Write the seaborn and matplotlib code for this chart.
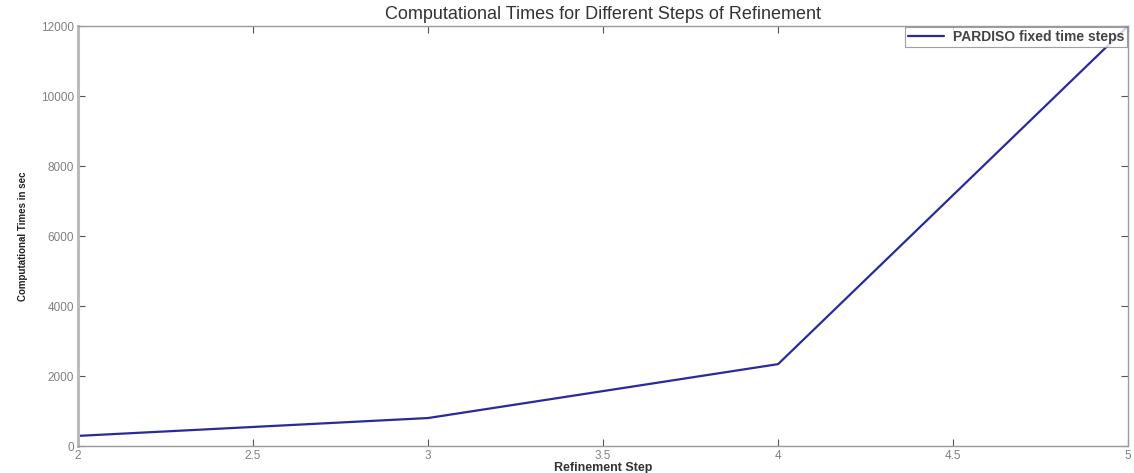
import matplotlib
matplotlib.use("Agg")
import matplotlib.pyplot as plt
import seaborn as sns
import pandas as pd

# Refinement steps and measured computational times (seconds)
refinement_step = [2, 3, 4, 5]
comp_time_sec = [290, 800, 2340, 12000]
series_name = "PARDISO fixed time steps"

x_ticks = [2, 2.5, 3, 3.5, 4, 4.5, 5]
x_tick_labels = ["2", "2.5", "3", "3.5", "4", "4.5", "5"]
y_ticks = [0, 2000, 4000, 6000, 8000, 10000, 12000]
y_tick_labels = ["0", "2000", "4000", "6000", "8000", "10000", "12000"]

sns.set_theme(style="white")
plt.rcParams["font.family"] = ["Liberation Sans", "DejaVu Sans"]

df = pd.DataFrame({"step": refinement_step, "time": comp_time_sec, "series": series_name})

fig = plt.figure(figsize=(11.34, 4.73), dpi=100)
ax = fig.add_axes([0.0688, 0.057, 0.926, 0.888])

sns.lineplot(data=df, x="step", y="time", hue="series", palette=["#2a2a9c"],
             linewidth=1.6, ax=ax)

ax.set_xlim(2, 5)
ax.set_ylim(0, 12000)
ax.set_xticks(x_ticks)
ax.set_xticklabels(x_tick_labels)
ax.set_yticks(y_ticks)
ax.set_yticklabels(y_tick_labels)

ax.tick_params(direction="in", length=5, width=0.8, color="#555555",
               labelsize=8.5, labelcolor="#808080", top=True, right=True,
               bottom=True, left=True, pad=3)

for name, sp in ax.spines.items():
    sp.set_color("#9a9a9a")
    sp.set_linewidth(1.0)
ax.spines["left"].set_linewidth(2.2)
ax.spines["left"].set_color("#bbbbbb")

ax.set_title("Computational Times for Different Steps of Refinement",
             fontsize=13, color="#333333", pad=5)
ax.set_xlabel("Refinement Step", fontsize=9, fontweight="bold",
              color="#333333", labelpad=0)
ax.set_ylabel("Computational Times in sec", fontsize=7, color="#222222",
              fontweight="bold", labelpad=9)

leg = ax.legend(loc="upper right", fontsize=10, frameon=True, fancybox=False,
                borderpad=0.2, handlelength=2.6, handletextpad=0.6,
                borderaxespad=0.1, title=None)
leg.get_frame().set_edgecolor("#888888")
leg.get_frame().set_linewidth(0.8)
for t in leg.get_texts():
    t.set_fontweight("bold")
    t.set_color("#444444")

fig.savefig("out.png", dpi=100, facecolor="white")
